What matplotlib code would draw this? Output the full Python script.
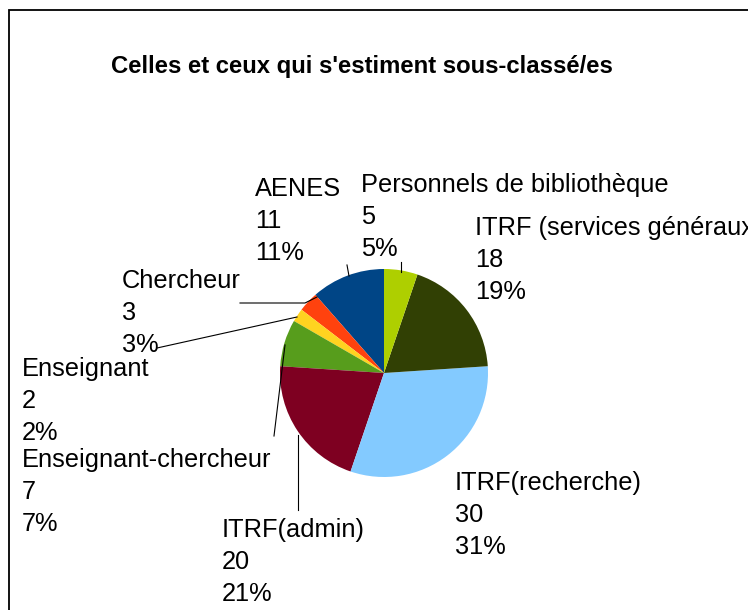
import matplotlib
matplotlib.use("Agg")
import matplotlib.pyplot as plt

plt.rcParams['font.family'] = ['Liberation Sans', 'DejaVu Sans']

# Data (series order, drawn counter-clockwise from 12 o'clock)
categories = ["AENES", "Chercheur", "Enseignant", "Enseignant-chercheur",
              "ITRF(admin)", "ITRF(recherche)", "ITRF (services généraux)",
              "Personnels de bibliothèque"]
values = [11, 3, 2, 7, 20, 30, 18, 5]
colors = ["#004586", "#ff420e", "#ffd320", "#579d1c",
          "#7e0021", "#83caff", "#314004", "#aecf00"]
title = "Celles et ceux qui s'estiment sous-classé/es"

W, H = 748, 610
fig = plt.figure(figsize=(W / 100, H / 100), dpi=100)
ax = fig.add_axes([0, 0, 1, 1])

def py(y):
    return H - y

cx, cy, r = 384, 373, 104
ax.pie(values, colors=colors, startangle=90, counterclock=True,
       center=(cx, py(cy)), radius=r, wedgeprops=dict(linewidth=0))
ax.set_xlim(0, W)
ax.set_ylim(0, H)
ax.set_aspect('equal')
ax.axis('off')

# frame
ax.plot([9, 9, W + 5], [py(H + 5), py(10), py(10)], color='black', lw=1.3,
        clip_on=False, solid_joinstyle='miter')

# title
ax.text(362, py(67), title, ha='center', va='center', fontsize=17.2,
        fontweight='bold', color='black')

# label positions (left x, first baseline y) in pixels
label_pos = {
    "AENES": (255, 196),
    "Chercheur": (122, 288),
    "Enseignant": (22, 376),
    "Enseignant-chercheur": (22, 467),
    "ITRF(admin)": (222, 537),
    "ITRF(recherche)": (455, 490),
    "ITRF (services généraux)": (475, 235),
    "Personnels de bibliothèque": (361, 192),
}
total = sum(values)
pitch = 32
for cat, v in zip(categories, values):
    x, y = label_pos[cat]
    lines = [cat, str(v), f"{round(100 * v / total)}%"]
    for i, t in enumerate(lines):
        ax.text(x, py(y + i * pitch), t, ha='left', va='baseline',
                fontsize=18.3, color='black', clip_on=False)

# leader lines (pixel coords)
leaders = [
    [(347, 265), (349, 276)],
    [(401, 262), (401, 272)],
    [(240, 303), (305, 303), (317, 297)],
    [(157, 348), (297, 317)],
    [(274, 436), (285, 345)],
    [(298, 435), (298, 510)],
]
for seg in leaders:
    xs = [p[0] for p in seg]
    ys = [py(p[1]) for p in seg]
    ax.plot(xs, ys, color='black', lw=0.8)

fig.savefig("out.png", dpi=100)
